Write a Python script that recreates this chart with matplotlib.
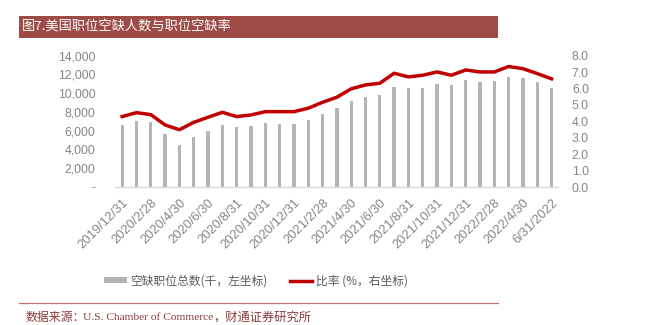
import matplotlib
matplotlib.use("Agg")
import matplotlib.pyplot as plt
from matplotlib.patches import Rectangle, Patch
from matplotlib.lines import Line2D
import numpy as np

plt.rcParams['font.family'] = ['Liberation Sans', 'Noto Sans CJK SC', 'DejaVu Sans']

# Data
dates = ["2019/12/31", "2020/1/31", "2020/2/28", "2020/3/31", "2020/4/30", "2020/5/31",
         "2020/6/30", "2020/7/31", "2020/8/31", "2020/9/30", "2020/10/31", "2020/11/30",
         "2020/12/31", "2021/1/31", "2021/2/28", "2021/3/31", "2021/4/30", "2021/5/31",
         "2021/6/30", "2021/7/31", "2021/8/31", "2021/9/30", "2021/10/31", "2021/11/30",
         "2021/12/31", "2022/1/31", "2022/2/28", "2022/3/31", "2022/4/30", "2022/5/31",
         "6/31/2022"]
openings = [6610, 7070, 6930, 5650, 4510, 5360, 6000, 6610, 6360, 6500, 6790, 6680,
            6680, 7140, 7780, 8390, 9170, 9560, 9770, 10660, 10520, 10520, 10980, 10840,
            11370, 11190, 11270, 11760, 11590, 11190, 10590]
rate = [4.29, 4.53, 4.41, 3.78, 3.49, 3.94, 4.25, 4.55, 4.29, 4.39, 4.59, 4.59,
        4.59, 4.80, 5.16, 5.47, 5.98, 6.22, 6.32, 6.93, 6.71, 6.81, 7.01, 6.81,
        7.13, 7.01, 7.01, 7.34, 7.21, 6.91, 6.59]
left_ticks = [0, 2000, 4000, 6000, 8000, 10000, 12000, 14000]
left_labels = ["-", "2,000", "4,000", "6,000", "8,000", "10,000", "12,000", "14,000"]
right_ticks = [0, 1, 2, 3, 4, 5, 6, 7, 8]
title = "图7.美国职位空缺人数与职位空缺率"
bar_label = "空缺职位总数(千，左坐标)"
line_label = "比率 (%，右坐标)"
source_parts = ["数据来源：", "U.S. Chamber of Commerce", "，财通证券研究所"]

W, H = 650, 325
fig = plt.figure(figsize=(6.5, 3.25), dpi=100)

def fx(px):
    return px / W

def fy(py):
    return 1 - py / H

# Title bar
fig.patches.append(Rectangle((fx(19), fy(38)), fx(498 - 19), (38 - 16) / H,
                             transform=fig.transFigure, facecolor="#9E4A47",
                             edgecolor="none", zorder=0))
fig.text(fx(22), fy(27), title, color="white", fontsize=9.5, va="center", ha="left",
         family=['Noto Sans CJK SC', 'DejaVu Sans'])

ax = fig.add_axes([fx(115), fy(187), fx(558 - 115), (187 - 55.7) / H])
x = np.arange(len(dates))
grey = "#B4B4B4"
red = "#C00000"
tick_color = "#858585"

ax.bar(x, openings, width=0.23, color=grey, zorder=2)
ax.set_ylim(0, 14000)
ax.set_xlim(-0.5, len(dates) - 0.55)
ax.set_yticks(left_ticks)
ax.set_yticklabels(left_labels)
for s in ["top", "right", "left"]:
    ax.spines[s].set_visible(False)
ax.spines["bottom"].set_color("#D9D9D9")
ax.spines["bottom"].set_linewidth(1.0)
ax.tick_params(axis="y", length=0, labelsize=8.8, labelcolor=tick_color, pad=14)
ax.tick_params(axis="x", length=0, labelsize=9.3, labelcolor=tick_color, pad=7)
ax.set_xticks(x[::2])
ax.set_xticklabels(dates[::2], rotation=45, ha="right", rotation_mode="anchor")

ax2 = ax.twinx()
ax2.plot(x, rate, color=red, linewidth=2.5, zorder=3, solid_joinstyle="round")
ax2.set_ylim(0, 8)
ax2.set_yticks(right_ticks)
ax2.set_yticklabels([f"{v:.1f}" for v in right_ticks])
for s in ["top", "right", "left", "bottom"]:
    ax2.spines[s].set_visible(False)
ax2.tick_params(axis="y", length=0, labelsize=8.8, labelcolor=tick_color, pad=10)

# Legend
handles = [Patch(facecolor=grey, edgecolor="none"),
           Line2D([0], [0], color=red, linewidth=2.5)]
leg = fig.legend(handles, [bar_label, line_label], ncol=2, frameon=False,
                 loc="center", bbox_to_anchor=(fx(256), fy(281)),
                 prop={'family': ['Noto Sans CJK SC', 'DejaVu Sans'], 'size': 8.5},
                 handlelength=1.9, handleheight=0.35, handletextpad=0.3,
                 columnspacing=1.9)
for t in leg.get_texts():
    t.set_color("#595959")

# Bottom rule and source
fig.add_artist(Line2D([fx(19), fx(498)], [fy(303), fy(303)], transform=fig.transFigure,
                      color="#C0736F", linewidth=0.9))
src_color = "#8B3A3A"
fig.text(fx(26), fy(317), source_parts[0], color=src_color, fontsize=8.6, va="center",
         ha="left", family=['Noto Sans CJK SC', 'DejaVu Sans'])
fig.text(fx(83), fy(317), source_parts[1], color=src_color, fontsize=8.2, va="center",
         ha="left", family=['Liberation Serif', 'DejaVu Serif'])
fig.text(fx(213), fy(317), source_parts[2], color=src_color, fontsize=8.8, va="center",
         ha="left", family=['Noto Sans CJK SC', 'DejaVu Sans'])

fig.savefig("out.png", dpi=100)
